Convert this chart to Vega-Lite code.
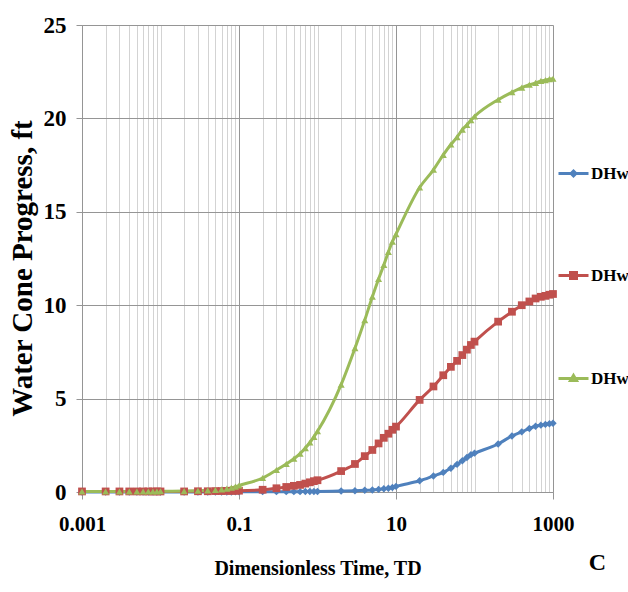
{
  "$schema": "https://vega.github.io/schema/vega-lite/v6.json",
  "width": 471,
  "height": 467,
  "autosize": {"type": "none"},
  "padding": {"left": 82, "top": 25, "right": 75, "bottom": 100},
  "background": "white",
  "config": {"view": {"stroke": null}, "font": "Liberation Serif"},
  "title": {"text": "C", "orient": "bottom", "anchor": "end", "frame": "group", "fontSize": 24, "font": "Liberation Serif", "fontWeight": "bold", "color": "black", "dx": 53, "offset": -27},
  "data": {"values": [
    {"t": 0.001, "b": 0.0, "r": 0.03, "g": 0.03},
    {"t": 0.002, "b": 0.0, "r": 0.03, "g": 0.03},
    {"t": 0.003, "b": 0.0, "r": 0.03, "g": 0.03},
    {"t": 0.004, "b": 0.0, "r": 0.03, "g": 0.03},
    {"t": 0.005, "b": 0.0, "r": 0.03, "g": 0.03},
    {"t": 0.006, "b": 0.0, "r": 0.03, "g": 0.03},
    {"t": 0.007, "b": 0.0, "r": 0.03, "g": 0.03},
    {"t": 0.008, "b": 0.0, "r": 0.03, "g": 0.03},
    {"t": 0.009, "b": 0.0, "r": 0.03, "g": 0.03},
    {"t": 0.01, "b": 0.0, "r": 0.03, "g": 0.04},
    {"t": 0.02, "b": 0.0, "r": 0.03, "g": 0.05},
    {"t": 0.03, "b": 0.0, "r": 0.04, "g": 0.07},
    {"t": 0.04, "b": 0.0, "r": 0.04, "g": 0.09},
    {"t": 0.05, "b": 0.0, "r": 0.05, "g": 0.11},
    {"t": 0.06, "b": 0.0, "r": 0.05, "g": 0.14},
    {"t": 0.07, "b": 0.0, "r": 0.06, "g": 0.18},
    {"t": 0.08, "b": 0.0, "r": 0.06, "g": 0.23},
    {"t": 0.09, "b": 0.01, "r": 0.07, "g": 0.29},
    {"t": 0.1, "b": 0.01, "r": 0.07, "g": 0.35},
    {"t": 0.2, "b": 0.02, "r": 0.12, "g": 0.75},
    {"t": 0.3, "b": 0.02, "r": 0.2, "g": 1.18},
    {"t": 0.4, "b": 0.02, "r": 0.27, "g": 1.5},
    {"t": 0.5, "b": 0.02, "r": 0.33, "g": 1.78},
    {"t": 0.6, "b": 0.02, "r": 0.38, "g": 2.05},
    {"t": 0.7, "b": 0.03, "r": 0.45, "g": 2.35},
    {"t": 0.8, "b": 0.03, "r": 0.52, "g": 2.65},
    {"t": 0.9, "b": 0.03, "r": 0.58, "g": 2.95},
    {"t": 1, "b": 0.03, "r": 0.63, "g": 3.25},
    {"t": 2, "b": 0.05, "r": 1.12, "g": 5.75},
    {"t": 3, "b": 0.07, "r": 1.5, "g": 7.7},
    {"t": 4, "b": 0.09, "r": 1.92, "g": 9.2},
    {"t": 5, "b": 0.11, "r": 2.25, "g": 10.45},
    {"t": 6, "b": 0.14, "r": 2.6, "g": 11.4},
    {"t": 7, "b": 0.17, "r": 2.9, "g": 12.15},
    {"t": 8, "b": 0.2, "r": 3.12, "g": 12.85},
    {"t": 9, "b": 0.24, "r": 3.33, "g": 13.4},
    {"t": 10, "b": 0.3, "r": 3.5, "g": 13.8},
    {"t": 20, "b": 0.6, "r": 4.93, "g": 16.3},
    {"t": 30, "b": 0.86, "r": 5.65, "g": 17.25},
    {"t": 40, "b": 1.05, "r": 6.25, "g": 18.05},
    {"t": 50, "b": 1.27, "r": 6.7, "g": 18.6},
    {"t": 60, "b": 1.48, "r": 7.02, "g": 19.0},
    {"t": 70, "b": 1.67, "r": 7.33, "g": 19.4},
    {"t": 80, "b": 1.85, "r": 7.62, "g": 19.65},
    {"t": 90, "b": 2.0, "r": 7.87, "g": 19.9},
    {"t": 100, "b": 2.08, "r": 8.05, "g": 20.1},
    {"t": 200, "b": 2.57, "r": 9.12, "g": 21.0},
    {"t": 300, "b": 3.0, "r": 9.65, "g": 21.4},
    {"t": 400, "b": 3.22, "r": 10.0, "g": 21.65},
    {"t": 500, "b": 3.4, "r": 10.2, "g": 21.8},
    {"t": 600, "b": 3.52, "r": 10.36, "g": 21.9},
    {"t": 700, "b": 3.58, "r": 10.45, "g": 22.0},
    {"t": 800, "b": 3.62, "r": 10.5, "g": 22.05},
    {"t": 900, "b": 3.65, "r": 10.56, "g": 22.1},
    {"t": 1000, "b": 3.68, "r": 10.6, "g": 22.12}
  ]},
  "transform": [{"fold": ["b", "r", "g"], "as": ["series", "v"]}],
  "encoding": {
    "x": {
      "field": "t", "type": "quantitative",
      "scale": {"type": "log", "domain": [0.001, 1000], "nice": false},
      "axis": {
        "values": [0.001,0.002,0.003,0.004,0.005,0.006,0.007,0.008,0.009,0.01,0.02,0.03,0.04,0.05,0.06,0.07,0.08,0.09,0.1,0.2,0.3,0.4,0.5,0.6,0.7,0.8,0.9,1,2,3,4,5,6,7,8,9,10,20,30,40,50,60,70,80,90,100,200,300,400,500,600,700,800,900,1000],
        "format": "~g",
        "labelExpr": "(datum.value==0.001||datum.value==0.1||datum.value==10||datum.value==1000) ? datum.label : ''",
        "labelOverlap": false,
        "labelBound": false,
        "labelFlush": false,
        "gridColor": {"condition": {"test": "datum.value==0.001||datum.value==0.1||datum.value==10||datum.value==1000", "value": "#959595"}, "value": "#d3d3d3"},
        "gridWidth": 1,
        "tickColor": {"condition": {"test": "datum.value==0.001||datum.value==0.1||datum.value==10||datum.value==1000", "value": "#959595"}, "value": "transparent"},
        "tickSize": 7,
        "domainColor": "#959595",
        "labelFont": "Liberation Serif", "labelFontWeight": "bold", "labelFontSize": 21, "labelColor": "black", "labelPadding": 14,
        "title": "Dimensionless Time, TD",
        "titleFont": "Liberation Serif", "titleFontWeight": "bold", "titleFontSize": 20, "titleColor": "black", "titlePadding": 24
      }
    },
    "y": {
      "field": "v", "type": "quantitative",
      "scale": {"domain": [0, 25], "nice": false},
      "axis": {
        "values": [0, 5, 10, 15, 20, 25],
        "gridColor": "#959595",
        "tickColor": "#959595", "tickSize": 6,
        "domainColor": "#959595",
        "labelFont": "Liberation Serif", "labelFontWeight": "bold", "labelFontSize": 23, "labelColor": "black", "labelPadding": 10,
        "title": "Water Cone Progress, ft",
        "titleFont": "Liberation Serif", "titleFontWeight": "bold", "titleFontSize": 29, "titleColor": "black", "titlePadding": 6,
        "titleY": 243
      }
    }
  },
  "layer": [
    {"mark": {"type": "line", "interpolate": "monotone", "strokeWidth": 3},
     "encoding": {
      "color": {
        "field": "series", "type": "nominal",
        "scale": {"domain": ["b", "r", "g"], "range": ["#4F81BD", "#C0504D", "#9BBB59"]},
        "legend": {
          "orient": "none", "legendX": 475, "legendY": 132, "padding": 0,
          "title": null,
          "labelExpr": "'DHw'",
          "labelFont": "Liberation Serif", "labelFontWeight": "bold", "labelFontSize": 17, "labelColor": "black",
          "labelOffset": 1,
          "symbolSize": 900, "symbolStrokeWidth": 3,
          "rowPadding": 77,
          "encode": {"symbols": {"update": {
            "shape": {"signal": "datum.value==='b' ? 'M-1,0H1M0,-0.16L0.16,0L0,0.16L-0.16,0Z' : datum.value==='r' ? 'M-1,0H1M-0.2,-0.2H0.2V0.2H-0.2Z' : 'M-1,0H1M0,-0.2L0.2,0.14H-0.2Z'"},
            "fill": {"scale": "color", "field": "value"},
            "stroke": {"scale": "color", "field": "value"},
            "opacity": {"value": 1}
          }}}
        }
      }
    }},
    {"transform": [{"filter": "datum.series==='b'"}],
     "mark": {"type": "point", "filled": true, "opacity": 1, "size": 55, "shape": "diamond", "color": "#4F81BD"}},
    {"transform": [{"filter": "datum.series==='r'"}],
     "mark": {"type": "point", "filled": true, "opacity": 1, "size": 60, "shape": "square", "color": "#C0504D"}},
    {"transform": [{"filter": "datum.series==='g'"}],
     "mark": {"type": "point", "filled": true, "opacity": 1, "size": 50, "shape": "triangle-up", "color": "#9BBB59"}}
  ]
}
